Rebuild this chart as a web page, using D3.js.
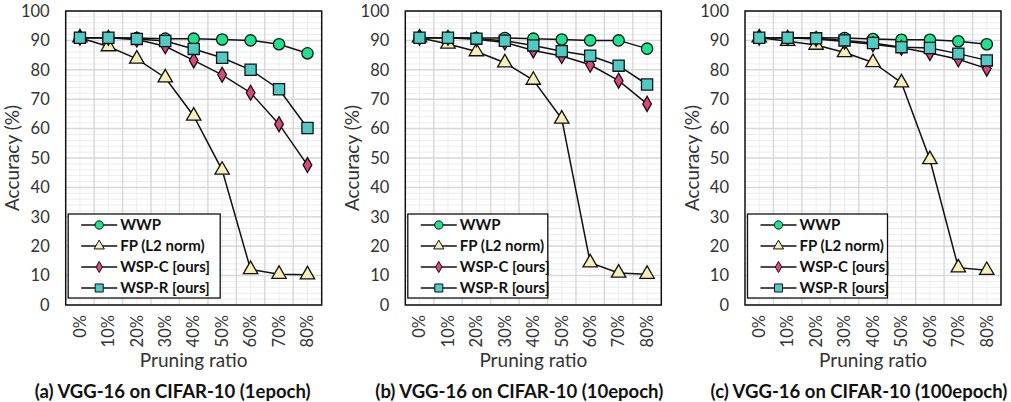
<!DOCTYPE html>
<html>
<head>
<meta charset="utf-8">
<script src="https://cdn.jsdelivr.net/npm/d3@7"></script>
<style>
  body { margin: 0; background: #fff; }
  svg { display: block; font-family: Lato, "Open Sans", sans-serif; }
  .tick-label { font-size: 16.5px; fill: #333; }
  .axis-title { font-size: 19px; fill: #333; }
  .legend-text { font-size: 15px; font-weight: bold; fill: #111; }
  .panel-title { font-size: 18.5px; font-weight: bold; fill: #111; }
</style>
</head>
<body>
<svg id="chart"></svg>
<script>
// categories and ticks
const ratios = ["0%", "10%", "20%", "30%", "40%", "50%", "60%", "70%", "80%"];
const yTicks = [0, 10, 20, 30, 40, 50, 60, 70, 80, 90, 100];
const seriesNames = ["WWP", "FP (L2 norm)", "WSP-C [ours]", "WSP-R [ours]"];
const titles = [
  "(a) VGG-16 on CIFAR-10 (1epoch)",
  "(b) VGG-16 on CIFAR-10 (10epoch)",
  "(c) VGG-16 on CIFAR-10 (100epoch)"
];

// (a) 1 epoch
const wwp1 = [90.9, 90.9, 90.8, 90.6, 90.6, 90.3, 90.0, 88.7, 85.6];
const fp1 = [90.9, 87.9, 83.7, 77.3, 64.3, 45.9, 12.1, 10.5, 10.3];
const wspc1 = [90.9, 90.9, 90.3, 88.0, 83.2, 78.3, 72.2, 61.5, 47.6];
const wspr1 = [90.9, 90.9, 90.5, 89.8, 87.1, 84.1, 80.0, 73.4, 60.2];

// (b) 10 epoch
const wwp10 = [90.9, 90.9, 90.8, 90.8, 90.6, 90.3, 90.0, 90.0, 87.2];
const fp10 = [90.9, 88.8, 86.2, 82.4, 76.5, 63.3, 14.4, 10.9, 10.5];
const wspc10 = [90.9, 90.9, 90.4, 89.3, 86.6, 84.7, 81.7, 76.3, 68.4];
const wspr10 = [90.9, 90.9, 90.6, 89.9, 88.3, 86.3, 84.8, 81.4, 75.0];

// (c) 100 epoch
const wwp100 = [90.9, 90.9, 90.9, 90.8, 90.5, 90.2, 90.2, 89.7, 88.7];
const fp100 = [90.9, 89.7, 88.4, 85.9, 82.5, 75.6, 49.5, 12.7, 11.8];
const wspc100 = [90.9, 90.9, 90.5, 89.6, 88.7, 87.5, 85.7, 83.6, 80.4];
const wspr100 = [90.9, 90.9, 90.7, 90.0, 89.1, 87.7, 87.4, 85.5, 83.2];

const panels = [
  { title: titles[0], series: [wwp1, fp1, wspc1, wspr1], legendW: 152, titleShift: -21 },
  { title: titles[1], series: [wwp10, fp10, wspc10, wspr10], legendW: 140, titleShift: -14 },
  { title: titles[2], series: [wwp100, fp100, wspc100, wspr100], legendW: 140, titleShift: -14 }
];

const styles = [
  { shape: d3.symbolCircle, size: 100, legendSize: 55, fill: "#19e68c" },
  { shape: d3.symbolTriangle, size: 90, legendSize: 45, fill: "#f6f0b4" },
  { shape: d3.symbolDiamond, size: 65, legendSize: 36, fill: "#e0447a" },
  { shape: d3.symbolSquare, size: 125, legendSize: 65, fill: "#4ecbc4" }
];

const width = 1011, height = 402;
const plotW = 256, plotTop = 11, plotBottom = 305;
const panelLefts = [65.7, 405.3, 745];

const svg = d3.select("#chart").attr("width", width).attr("height", height);
svg.append("rect").attr("width", width).attr("height", height).attr("fill", "#fff");

const x = d3.scaleBand().domain(ratios).range([0, plotW]);
const y = d3.scaleLinear().domain([0, 100]).range([plotBottom, plotTop]);
const minorY = d3.range(0, 101, 2);

panels.forEach((p, i) => {
  const g = svg.append("g").attr("transform", `translate(${panelLefts[i]},0)`);

  // minor grid
  g.selectAll(".minor-h").data(minorY).join("line")
    .attr("x1", 0).attr("x2", plotW)
    .attr("y1", d => y(d)).attr("y2", d => y(d))
    .attr("stroke", "#ececec").attr("stroke-width", 1);
  g.selectAll(".minor-v").data(ratios).join("line")
    .attr("x1", d => x(d) + x.bandwidth() / 2).attr("x2", d => x(d) + x.bandwidth() / 2)
    .attr("y1", plotTop).attr("y2", plotBottom)
    .attr("stroke", "#ececec").attr("stroke-width", 1);

  // major grid
  g.selectAll(".major-h").data(yTicks).join("line")
    .attr("x1", 0).attr("x2", plotW)
    .attr("y1", d => y(d)).attr("y2", d => y(d))
    .attr("stroke", "#d9d9d9").attr("stroke-width", 1.5);
  g.selectAll(".major-v").data(ratios.slice(1)).join("line")
    .attr("x1", d => x(d)).attr("x2", d => x(d))
    .attr("y1", plotTop).attr("y2", plotBottom)
    .attr("stroke", "#d9d9d9").attr("stroke-width", 1.5);

  // y tick labels
  g.selectAll(".ylab").data(yTicks).join("text")
    .attr("class", "tick-label")
    .attr("x", -16).attr("y", d => y(d))
    .attr("dy", "0.35em").attr("text-anchor", "end")
    .text(d => d);

  // x tick labels (rotated)
  g.selectAll(".xlab").data(ratios).join("text")
    .attr("class", "tick-label")
    .attr("transform", d => `translate(${x(d) + x.bandwidth() / 2},${plotBottom + 10}) rotate(-90)`)
    .attr("dy", "0.35em").attr("text-anchor", "end")
    .text(d => d);

  g.append("text").attr("class", "axis-title")
    .attr("transform", `translate(-53,${(plotTop + plotBottom) / 2}) rotate(-90)`)
    .attr("text-anchor", "middle").attr("dy", "0.35em")
    .text("Accuracy (%)");

  g.append("text").attr("class", "axis-title")
    .attr("x", plotW / 2).attr("y", 367)
    .attr("text-anchor", "middle")
    .text("Pruning ratio");

  g.append("text").attr("class", "panel-title")
    .attr("x", plotW / 2 + p.titleShift).attr("y", 398)
    .attr("text-anchor", "middle")
    .text(p.title);

  // series
  const line = d3.line().x((d, j) => x(ratios[j]) + x.bandwidth() / 2).y(d => y(d));
  p.series.forEach((vals, s) => {
    const st = styles[s];
    const sg = g.append("g");
    sg.append("path").datum(vals)
      .attr("d", line).attr("fill", "none")
      .attr("stroke", "#111").attr("stroke-width", 1.5);
    sg.selectAll("path.pt").data(vals).join("path")
      .attr("class", "pt")
      .attr("transform", (d, j) => `translate(${x(ratios[j]) + x.bandwidth() / 2},${y(d)})`)
      .attr("d", d3.symbol(st.shape, st.size))
      .attr("fill", st.fill).attr("stroke", "#111").attr("stroke-width", 1.3);
  });

  // plot border
  g.append("rect")
    .attr("x", 0).attr("y", plotTop)
    .attr("width", plotW).attr("height", plotBottom - plotTop)
    .attr("fill", "none").attr("stroke", "#111").attr("stroke-width", 1.5);

  // legend
  const lg = g.append("g").attr("transform", "translate(2.5,214)");
  lg.append("rect").attr("width", p.legendW).attr("height", 84)
    .attr("fill", "#fff").attr("stroke", "#111").attr("stroke-width", 1.3);
  seriesNames.forEach((name, s) => {
    const st = styles[s];
    const ry = 11 + s * 21;
    lg.append("line").attr("x1", 13).attr("x2", 49).attr("y1", ry).attr("y2", ry)
      .attr("stroke", "#111").attr("stroke-width", 1.5);
    lg.append("path").attr("transform", `translate(31,${ry})`)
      .attr("d", d3.symbol(st.shape, st.legendSize))
      .attr("fill", st.fill).attr("stroke", "#111").attr("stroke-width", 1);
    lg.append("text").attr("class", "legend-text")
      .attr("x", 52).attr("y", ry).attr("dy", "0.35em")
      .text(name);
  });
});
</script>
</body>
</html>
